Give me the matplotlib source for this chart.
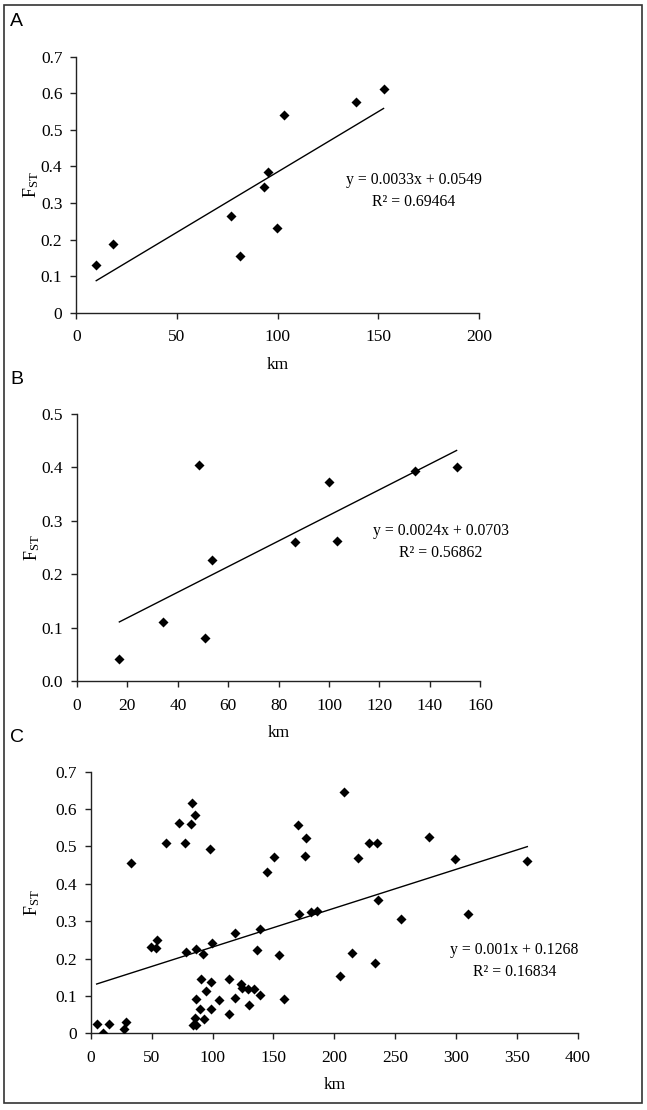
import numpy as np
import matplotlib
matplotlib.use("Agg")
import matplotlib.pyplot as plt
from matplotlib.patches import Rectangle

plt.rcParams['font.family'] = ['Liberation Serif', 'DejaVu Serif']
plt.rcParams['mathtext.fontset'] = 'custom'
plt.rcParams['mathtext.rm'] = 'Liberation Serif'
plt.rcParams['mathtext.it'] = 'Liberation Serif:italic'

# panel A
a_km = [9.9, 18.2, 76.8, 81.5, 93.4, 95.4, 99.7, 103.1, 138.9, 152.6]
a_fst = [0.131, 0.189, 0.265, 0.155, 0.345, 0.386, 0.232, 0.540, 0.577, 0.611]
a_fit = (0.0033, 0.0549)
a_eq = ["y = 0.0033x + 0.0549", "R\u00b2 = 0.69464"]

# panel B
b_km = [16.8, 34.1, 48.5, 50.8, 53.6, 86.5, 100.1, 103.3, 134.1, 150.6]
b_fst = [0.041, 0.110, 0.405, 0.081, 0.227, 0.260, 0.373, 0.262, 0.394, 0.401]
b_fit = (0.0024, 0.0703)
b_eq = ["y = 0.0024x + 0.0703", "R\u00b2 = 0.56862"]

# panel C
c_km = [4.9, 9.8, 15.0, 27.1, 29.3, 32.8, 49.5, 53.4, 54.4, 61.6,
        72.5, 77.2, 78.2, 82.3, 82.9, 85.6, 83.7, 85.4, 86.5, 86.5,
        86.5, 89.7, 90.8, 91.9, 93.3, 94.7, 97.9, 98.8, 98.8, 99.9,
        105.3, 113.3, 113.5, 118.5, 118.5, 123.4, 123.9, 129.1, 129.7, 134.1,
        136.8, 139.0, 139.3, 145.0, 150.8, 154.9, 158.7, 170.2, 170.7, 175.9,
        177.0, 180.6, 186.0, 204.6, 208.2, 214.5, 219.2, 228.7, 234.7, 236.1,
        233.1, 254.7, 277.4, 298.7, 309.9, 358.4]
c_fst = [0.024, 0.002, 0.026, 0.012, 0.029, 0.455, 0.232, 0.228, 0.249, 0.510,
         0.563, 0.508, 0.217, 0.560, 0.617, 0.584, 0.021, 0.040, 0.023, 0.093,
         0.225, 0.066, 0.145, 0.213, 0.039, 0.113, 0.492, 0.136, 0.066, 0.241,
         0.089, 0.145, 0.052, 0.095, 0.269, 0.133, 0.121, 0.119, 0.075, 0.118,
         0.222, 0.278, 0.102, 0.431, 0.473, 0.210, 0.092, 0.557, 0.320, 0.474,
         0.522, 0.324, 0.328, 0.152, 0.646, 0.215, 0.470, 0.510, 0.510, 0.358,
         0.187, 0.307, 0.524, 0.466, 0.318, 0.462]
c_fit = (0.00104, 0.1268)
c_eq = ["y = 0.001x + 0.1268", "R\u00b2 = 0.16834"]

W, H = 647, 1110
fig = plt.figure(figsize=(W / 100, H / 100), dpi=100)

# outer frame
fig.patches.append(Rectangle((4 / W, 1 - 1103 / H), 638 / W, 1098 / H,
                             transform=fig.transFigure, fill=False,
                             edgecolor='#333333', linewidth=1.2))


def panel(box, km, fst, fit, eq, xmax, xstep, ymax, yfmt, eqpos, letter, letterpos, ylab_gap):
    l, t, r, b = box
    ax = fig.add_axes([l / W, 1 - b / H, (r - l) / W, (b - t) / H])
    ax.scatter(km, fst, marker='D', s=26, color='black', zorder=3, linewidths=0)
    xs = np.array([min(km), max(km)])
    ax.plot(xs, fit[0] * xs + fit[1], color='black', linewidth=1.0)
    ax.set_xlim(0, xmax)
    ax.set_ylim(0, ymax)
    ax.set_xticks(np.arange(0, xmax + 1, xstep))
    yt = np.round(np.arange(0, ymax + 0.001, 0.1), 1)
    ax.set_yticks(yt)
    ax.set_yticklabels([yfmt(v) for v in yt])
    for s in ['top', 'right']:
        ax.spines[s].set_visible(False)
    for s in ['left', 'bottom']:
        ax.spines[s].set_color('#222222')
        ax.spines[s].set_linewidth(1.0)
    ax.tick_params(axis='both', direction='out', length=4, width=1.0,
                   color='#222222', labelsize=12.5)
    ax.tick_params(axis='x', pad=8)
    ax.tick_params(axis='y', pad=6)
    ax.set_xlabel('km', fontsize=12.5)
    ax.set_ylabel(r'F$_{\mathrm{ST}}$', fontsize=13)
    ax.xaxis.set_label_coords(0.5, -44 / (b - t))
    ax.yaxis.set_label_coords(-ylab_gap / (r - l), 0.5)
    ax.text(eqpos[0], eqpos[1], eq[0] + "\n" + eq[1], fontsize=11.3,
            ha='center', va='center', multialignment='center', linespacing=1.45)
    fig.text(letterpos[0] / W, 1 - letterpos[1] / H, letter, fontsize=14,
             family='Liberation Sans', ha='left', va='center')
    return ax


panel((76.3, 56.7, 479, 312.7), a_km, a_fst, a_fit, a_eq, 200, 50, 0.7,
      lambda v: '0' if v == 0 else '%.1f' % v, (167.6, 0.333), 'A', (10, 21), 35)
panel((77, 414, 480.3, 681), b_km, b_fst, b_fit, b_eq, 160, 20, 0.5,
      lambda v: '%.1f' % v, (144.4, 0.260), 'B', (10, 379), 35)
panel((90.7, 771.7, 578, 1033.3), c_km, c_fst, c_fit, c_eq, 400, 50, 0.7,
      lambda v: '0' if v == 0 else '%.1f' % v, (347.7, 0.1935), 'C', (10, 737), 49)

fig.savefig('out.png', dpi=100)
